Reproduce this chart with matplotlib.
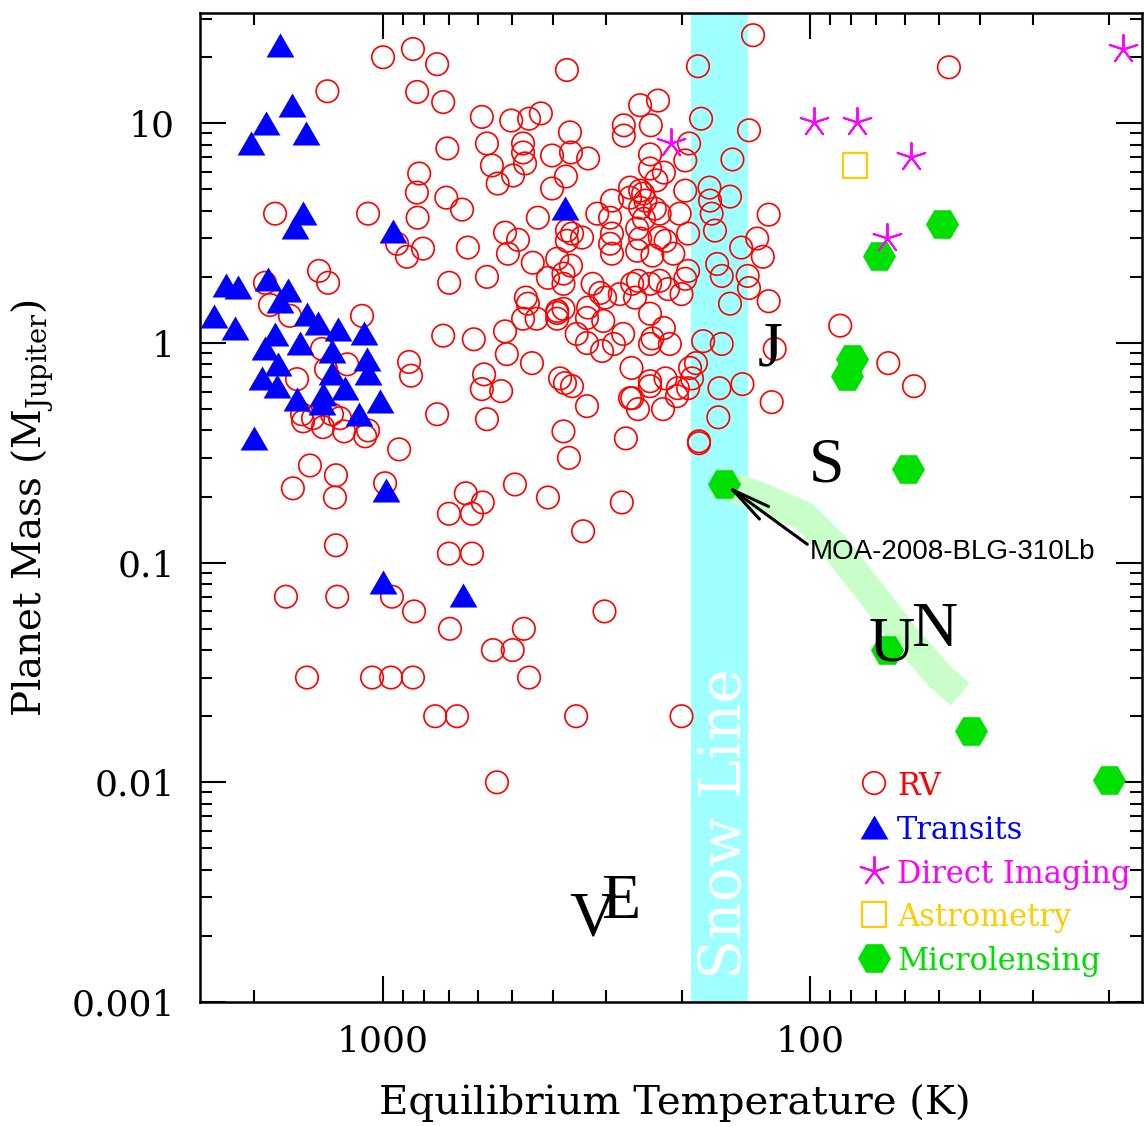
import matplotlib
matplotlib.use('Agg')
import matplotlib.pyplot as plt
import matplotlib.ticker as ticker
import numpy as np

plt.rcParams['font.family'] = 'DejaVu Serif'
plt.rcParams['mathtext.fontset'] = 'dejavuserif'

# equilibrium temperature (K), planet mass (M_Jupiter)
rv = np.array([
    (1000, 20.0), (1350, 14.0), (851, 21.8), (747, 18.6), (832, 13.9), (723, 12.5),
    (371, 17.5), (587, 10.7), (501, 10.3), (455, 10.5), (427, 11.1), (273, 9.8),
    (273, 8.8), (250, 12.1), (227, 12.7), (236, 9.8), (183, 18.2), (180, 10.5),
    (136, 25.2), (139, 9.3), (47.3, 18.0), (365, 9.1), (1790, 3.88), (1084, 3.88),
    (823, 5.91), (833, 4.84), (830, 3.72), (927, 2.83), (879, 2.47), (806, 2.69),
    (1412, 2.13), (1345, 1.88), (1890, 1.88), (1839, 1.49), (1652, 1.33), (1120, 1.33),
    (1390, 0.94), (1360, 0.76), (1213, 0.80), (1590, 0.685), (869, 0.82), (860, 0.71),
    (1548, 0.474), (1539, 0.44), (1459, 0.455), (1382, 0.414), (1317, 0.474), (1261, 0.455),
    (1234, 0.396), (1101, 0.376), (1084, 0.40), (917, 0.328), (1483, 0.277), (1289, 0.25),
    (1626, 0.218), (1296, 0.198), (989, 0.23), (1289, 0.12), (1688, 0.07), (1280, 0.07),
    (953, 0.07), (846, 0.06), (1507, 0.03), (1061, 0.03), (958, 0.03), (851, 0.03),
    (707, 7.69), (571, 8.1), (470, 8.1), (470, 7.37), (465, 6.57), (496, 5.79),
    (556, 6.43), (539, 5.32), (402, 7.14), (363, 7.37), (331, 6.92), (373, 5.73),
    (402, 5.05), (711, 4.59), (653, 4.05), (633, 2.72), (700, 1.88), (571, 2.0),
    (518, 3.18), (483, 2.95), (510, 2.55), (434, 3.72), (446, 2.32), (411, 1.98),
    (371, 3.25), (371, 2.92), (391, 2.42), (378, 2.07), (378, 1.86), (463, 1.61),
    (458, 1.51), (470, 1.29), (391, 1.40), (391, 1.29), (723, 1.08), (613, 1.04),
    (518, 1.13), (513, 0.89), (448, 0.81), (580, 0.72), (587, 0.617), (529, 0.604),
    (375, 0.657), (747, 0.474), (571, 0.45), (378, 0.396), (640, 0.207), (584, 0.188),
    (701, 0.167), (619, 0.167), (491, 0.227), (411, 0.198), (276, 0.188), (340, 0.139),
    (701, 0.11), (619, 0.11), (303, 0.06), (697, 0.05), (468, 0.05), (553, 0.04),
    (497, 0.04), (455, 0.03), (755, 0.02), (671, 0.02), (353, 0.02), (200, 0.02),
    (541, 0.01), (367, 0.30), (270, 0.368), (333, 0.516), (264, 0.561), (253, 0.50),
    (221, 0.50), (237, 0.636), (205, 0.573), (193, 0.623), (163, 0.623), (144, 0.65),
    (123, 0.538), (164, 0.459), (182, 0.357), (361, 0.636), (237, 7.22), (237, 6.23),
    (220, 5.97), (229, 5.5), (192, 8.1), (196, 6.78), (264, 5.1), (250, 4.94),
    (264, 4.59), (243, 4.45), (291, 4.45), (231, 4.09), (196, 4.94), (315, 3.88),
    (294, 3.72), (361, 3.15), (342, 3.02), (294, 2.83), (291, 2.55), (254, 3.32),
    (254, 2.63), (225, 3.02), (209, 2.55), (193, 3.15), (193, 2.13), (363, 2.25),
    (323, 1.86), (310, 1.69), (302, 1.61), (261, 1.86), (253, 1.92), (237, 1.86),
    (225, 1.92), (215, 1.76), (200, 1.67), (378, 1.43), (333, 1.30), (257, 1.61),
    (305, 1.26), (274, 1.10), (237, 1.36), (220, 1.17), (234, 1.05), (333, 1.0),
    (262, 0.77), (237, 0.67), (218, 0.69), (204, 0.623), (261, 0.561), (246, 4.79),
    (250, 4.13), (202, 3.88), (245, 3.68), (225, 3.88), (250, 2.99), (218, 2.92),
    (234, 2.50), (196, 1.96), (279, 1.67), (352, 1.10), (307, 0.92), (288, 0.99),
    (237, 0.99), (213, 0.99), (385, 0.69), (191, 0.77), (331, 1.45), (437, 1.29),
    (391, 1.37), (291, 3.15), (152, 6.85), (172, 5.1), (171.5, 4.45), (170, 3.88),
    (154, 4.64), (125, 3.84), (167, 3.25), (133, 2.99), (145, 2.72), (129, 2.47),
    (165, 2.29), (161, 2.02), (140, 2.02), (139, 1.78), (154, 1.51), (125, 1.55),
    (178, 1.02), (161, 0.99), (121, 0.94), (185, 0.81), (189, 0.69), (182, 0.35),
    (85, 1.20), (65.6, 0.81), (57.1, 0.636),
])

transits = np.array([
    (1743, 22.7), (1634, 12.1), (1879, 10.0), (2038, 8.1), (1515, 9.0), (1539, 3.92),
    (1608, 3.39), (948, 3.25), (2332, 1.84), (2186, 1.80), (1859, 1.96), (1669, 1.75),
    (1743, 1.56), (2488, 1.33), (2222, 1.17), (1507, 1.36), (1420, 1.23), (1275, 1.16),
    (1108, 1.11), (1790, 1.10), (1890, 0.95), (1565, 1.0), (1317, 0.92), (1762, 0.80),
    (1090, 0.845), (1084, 0.73), (1920, 0.69), (1771, 0.636), (1317, 0.73), (1227, 0.623),
    (1382, 0.585), (1390, 0.532), (1590, 0.555), (1016, 0.543), (1138, 0.474), (2005, 0.368),
    (984, 0.215), (375, 4.1), (649, 0.0714), (1000, 0.082),
])

imaging = np.array([(97.9, 10.1), (77.6, 10.1), (58.0, 7.0), (66.0, 3.02), (18.5, 21.8), (212, 8.1)])
astrometry = np.array([(78.4, 6.43)])
microlensing = np.array([
    (49.1, 3.49), (68.9, 2.50), (79.7, 0.845), (81.9, 0.707), (58.9, 0.266),
    (66.0, 0.040), (42.0, 0.0171), (20.0, 0.0102), (159, 0.229),
])
moa = (159, 0.229)

snow_line = (140, 190)
band_teq = [167, 131, 102.7, 87.4, 72.4, 59.9, 49.6, 44.5]
band_mass = [0.234, 0.200, 0.162, 0.118, 0.0737, 0.0459, 0.0302, 0.0252]

planets = [('J', 124, 1.0), ('S', 91.3, 0.295), ('U', 64.3, 0.045), ('N', 51.2, 0.0527),
           ('V', 324, 0.00252), ('E', 277, 0.00305)]

tri = [(-1, -0.866), (1, -0.866), (0, 0.866)]
styles = [
    ('RV', rv, dict(marker='o', s=262, facecolors='none', edgecolors='#ff0000', linewidths=1.2), '#ff0000'),
    ('Transits', transits, dict(marker=tri, s=400, color='#0000ff', linewidths=0), '#0000ff'),
    ('Direct Imaging', imaging, dict(marker=(5, 2), s=440, color='#ff00ff', linewidths=1.4), '#ff00ff'),
    ('Astrometry', astrometry, dict(marker='s', s=300, facecolors='none', edgecolors='#ffcc00', linewidths=1.6), '#ffcc00'),
    ('Microlensing', microlensing, dict(marker='H', s=566, color='#00e000', linewidths=0), '#00e000'),
]

fig = plt.figure(figsize=(11.44, 11.26), dpi=100)
ax = fig.add_axes([200 / 1144, 124 / 1126, 942 / 1144, 989 / 1126])
ax.set_xscale('log')
ax.set_yscale('log')
ax.set_xlim(2683, 16.7)
ax.set_ylim(0.001, 31.8)

ax.axvspan(*snow_line, color='#a0ffff', lw=0, zorder=0)
ax.text(158, 0.0065, 'Snow Line', rotation=90, color='white', fontsize=42,
        ha='center', va='center', zorder=1)
ax.plot(band_teq, band_mass, color='#c8ffc8', lw=21, solid_capstyle='butt',
        solid_joinstyle='round', zorder=1)

for z, (label, pts, kw, col) in enumerate(styles):
    order = [2, 4, 6, 5, 3][z]
    ax.scatter(pts[:, 0], pts[:, 1], zorder=order, **kw)

for name, t, m in planets:
    ax.text(t, m, name, fontsize=46, family='Liberation Serif', ha='center',
            va='center_baseline', zorder=7)

ax.annotate('MOA-2008-BLG-310Lb', xy=moa, xytext=(100, 0.116), fontsize=20,
            family='Liberation Sans', ha='left', va='center_baseline', zorder=8,
            arrowprops=dict(arrowstyle='->,head_length=1.4,head_width=0.28', color='black',
                            lw=2.2, shrinkA=0, shrinkB=2, relpos=(0, 0.7)))

# legend
for i, (label, pts, kw, col) in enumerate(styles):
    yy = 0.2214 - i * 0.0443
    ax.scatter([0.7155], [yy], transform=ax.transAxes, zorder=8, clip_on=False, **kw)
    ax.text(0.740, yy, label, color=col, fontsize=22, transform=ax.transAxes,
            ha='left', va='center_baseline', zorder=8)

fmt = ticker.FuncFormatter(lambda v, p: f'{v:g}')
for axis in (ax.xaxis, ax.yaxis):
    axis.set_major_locator(ticker.LogLocator(base=10, numticks=10))
    axis.set_minor_locator(ticker.LogLocator(base=10, subs=np.arange(2, 10), numticks=20))
    axis.set_major_formatter(fmt)
    axis.set_minor_formatter(ticker.NullFormatter())

ax.tick_params(which='both', direction='in', top=True, right=True, width=1.5, labelsize=26)
ax.tick_params(which='major', length=18.5)
ax.tick_params(which='minor', length=8.9)
ax.tick_params(axis='y', pad=18)
ax.tick_params(axis='x', pad=16)
for sp in ax.spines.values():
    sp.set_linewidth(1.8)

ax.set_xlabel('Equilibrium Temperature (K)', fontsize=29)
ax.set_ylabel('Planet Mass (M$_{\\mathrm{Jupiter}}$)', fontsize=28)
ax.xaxis.set_label_coords(0.504, -0.083)
ax.yaxis.set_label_coords(-0.153, 0.5)

fig.savefig('out.png', dpi=100)
